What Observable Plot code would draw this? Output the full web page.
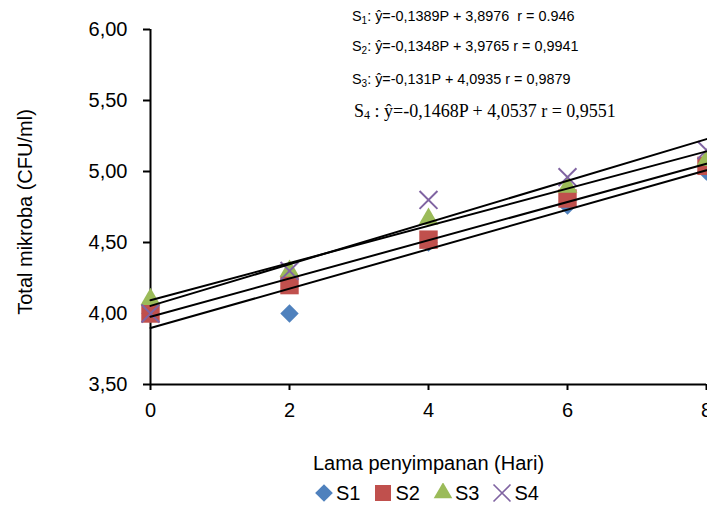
<!DOCTYPE html>
<html>
<head>
<meta charset="utf-8">
<script src="https://cdn.jsdelivr.net/npm/d3@7"></script>
<script src="https://cdn.jsdelivr.net/npm/@observablehq/plot@0.6"></script>
<style>
  body { margin: 0; background: #fff; }
  #wrap { position: relative; width: 707px; height: 506px; overflow: hidden; font-family: "Liberation Sans", Arial, sans-serif; }
  #chart svg { display: block; }
  .eq { position: absolute; white-space: nowrap; color: #000; line-height: 1; font-size: 14.4px; }
  .eq sub { font-size: 10px; vertical-align: baseline; position: relative; top: 3px; }
  .eq.serif { font-family: "Liberation Serif", "Times New Roman", serif; font-size: 18px; }
  .eq.serif sub { font-size: 12px; top: 2px; }
  #legend { position: absolute; left: 314px; top: 480px; height: 26px; display: flex; align-items: center; font-size: 20px; color: #000; }
  #legend .item { display: flex; align-items: center; margin-right: 13px; }
  #legend svg { margin-right: 2px; }
</style>
</head>
<body>
<div id="wrap">
  <div id="chart"></div>
  <div id="eqs"></div>
  <div id="legend"></div>
</div>
<script>
// ---- data ----
const days = [0, 2, 4, 6, 8];
const seriesNames = ["S1", "S2", "S3", "S4"];
const s1 = [4.00, 4.00, 4.50, 4.76, 5.00];
const s2 = [4.00, 4.20, 4.52, 4.81, 5.04];
const s3 = [4.10, 4.30, 4.665, 4.89, 5.08];
const s4 = [4.00, 4.30, 4.80, 4.96, 5.15];
const intercepts = [3.8976, 3.9765, 4.0935, 4.0537];
const slopes = [0.1389, 0.1348, 0.131, 0.1468];
const colors = ["#4F81BD", "#C0504D", "#9BBB59", "#8064A2"];
const symbols = ["diamond2", "square", "triangle", "times"];
const yTicks = [3.5, 4, 4.5, 5, 5.5, 6];
const xTicks = [0, 2, 4, 6, 8];
const equations = [
  "S<sub>1</sub>: ŷ=-0,1389P + 3,8976&nbsp; r = 0.946",
  "S<sub>2</sub>: ŷ=-0,1348P + 3,9765 r = 0,9941",
  "S<sub>3</sub>: ŷ=-0,131P + 4,0935 r = 0,9879",
  "S<sub>4</sub> : ŷ=-0,1468P + 4,0537 r = 0,9551"
];
const xTitle = "Lama penyimpanan (Hari)";
const yTitle = "Total mikroba (CFU/ml)";

// ---- derived tables ----
const allSeries = [s1, s2, s3, s4];
const pts = (vals, name) => days.map((d, i) => ({day: d, value: vals[i], series: name}));
const ext = d3.extent(days);
const trend = seriesNames.flatMap((name, i) =>
  ext.map(p => ({day: p, value: intercepts[i] + slopes[i] * p, series: name})));
const fmt = d => d.toFixed(2).replace(".", ",");

const dotStyles = [
  {symbol: symbols[0], fill: colors[0], stroke: "none", r: 8.3},
  {symbol: symbols[1], fill: colors[1], stroke: "none", r: 10.4},
  {symbol: symbols[2], fill: colors[2], stroke: "none", r: 7.4},
  {symbol: symbols[3], fill: "none", stroke: colors[3], strokeWidth: 2, r: 8.2}
];

const chart = Plot.plot({
  width: 707,
  height: 478,
  marginLeft: 150,
  marginRight: 1,
  marginTop: 29,
  marginBottom: 94,
  style: {fontFamily: "'Liberation Sans', Arial, sans-serif", fontSize: "20px", color: "#000", background: "#fff", overflow: "visible"},
  x: {domain: [0, 8]},
  y: {domain: [3.5, 6]},
  marks: [
    Plot.axisY({ticks: yTicks, tickFormat: fmt, tickSize: 7, tickPadding: 16, strokeWidth: 2, fontSize: 20, label: null}),
    Plot.axisX({ticks: xTicks, tickSize: 6, tickPadding: 12, strokeWidth: 2, fontSize: 20, label: null}),
    Plot.ruleY([3.5], {stroke: "#000", strokeWidth: 2}),
    Plot.ruleX([0], {stroke: "#000", strokeWidth: 2}),
    ...allSeries.map((vals, i) =>
      Plot.dot(pts(vals, seriesNames[i]), {x: "day", y: "value", ...dotStyles[i]})),
    Plot.line(trend, {x: "day", y: "value", z: "series", stroke: "#000", strokeWidth: 2}),
    Plot.text([xTitle], {frameAnchor: "bottom", textAnchor: "middle", lineAnchor: "middle", dy: 79, fontSize: 20, text: d => d}),
    Plot.text([yTitle], {frameAnchor: "left", textAnchor: "middle", lineAnchor: "middle", rotate: -90, dx: -125, dy: 5, fontSize: 20, text: d => d})
  ]
});
document.getElementById("chart").appendChild(chart);

// ---- equations (text annotations) ----
const eqTops = [9, 39, 72, 102];
const eqBox = document.getElementById("eqs");
equations.forEach((e, i) => {
  const div = document.createElement("div");
  div.className = "eq" + (i === 3 ? " serif" : "");
  div.style.left = (i === 3 ? 354 : 352) + "px";
  div.style.top = eqTops[i] + "px";
  div.innerHTML = e;
  eqBox.appendChild(div);
});

// ---- legend ----
const legend = document.getElementById("legend");
seriesNames.forEach((name, i) => {
  const item = document.createElement("div");
  item.className = "item";
  const size = 20;
  const svg = d3.create("svg").attr("width", size).attr("height", size);
  const sym = {diamond2: d3.symbolDiamond2, square: d3.symbolSquare, triangle: d3.symbolTriangle, times: d3.symbolTimes}[symbols[i]];
  const areas = [200, 256, 150, 190];
  svg.append("path")
    .attr("transform", `translate(${size / 2},${size / 2})`)
    .attr("d", d3.symbol(sym, areas[i])())
    .attr("fill", i === 3 ? "none" : colors[i])
    .attr("stroke", i === 3 ? colors[i] : "none")
    .attr("stroke-width", 1.6);
  item.appendChild(svg.node());
  const span = document.createElement("span");
  span.textContent = name;
  item.appendChild(span);
  legend.appendChild(item);
});
</script>
</body>
</html>
